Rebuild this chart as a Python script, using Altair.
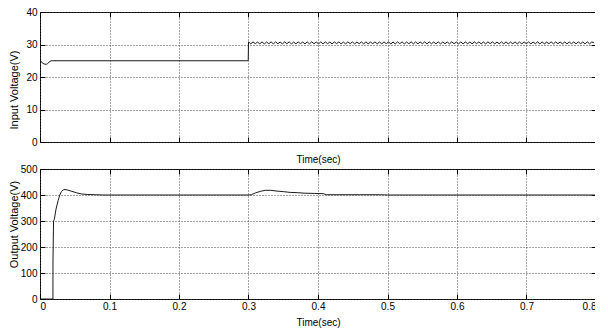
import altair as alt
import pandas as pd

# ---------------- data ----------------
XTICKS = [0, 0.1, 0.2, 0.3, 0.4, 0.5, 0.6, 0.7, 0.8]
IN_YTICKS = [0, 10, 20, 30, 40]
OUT_YTICKS = [0, 100, 200, 300, 400, 500]

# Input voltage: start-up dip, flat 25 V, step at 0.3 s
IN_T_START = [0.0, 0.003, 0.006, 0.009, 0.011, 0.013, 0.016, 0.2996]
IN_V_START = [25.2, 24.4, 24.0, 23.9, 24.1, 24.6, 25.0, 25.0]

# ripple after the step (sampled every half ripple period)
RIPPLE_T0 = 0.3
RIPPLE_DT = 0.00325
IN_RIPPLE = [
    30.8, 30.2, 30.8, 30.25, 30.75, 30.2, 30.8, 30.2, 30.75, 30.25, 30.8, 30.2, 30.8, 30.25,
    30.75, 30.2, 30.8, 30.25, 30.8, 30.2, 30.75, 30.2, 30.8, 30.25, 30.75, 30.2, 30.8, 30.2,
    30.8, 30.25, 30.75, 30.2, 30.8, 30.2, 30.8, 30.25, 30.75, 30.2, 30.8, 30.25, 30.8, 30.2,
    30.75, 30.2, 30.8, 30.25, 30.8, 30.2, 30.75, 30.25, 30.8, 30.2, 30.8, 30.2, 30.75, 30.25,
    30.8, 30.2, 30.75, 30.2, 30.8, 30.25, 30.8, 30.2, 30.75, 30.2, 30.8, 30.25, 30.8, 30.2,
    30.75, 30.25, 30.8, 30.2, 30.8, 30.2, 30.75, 30.25, 30.8, 30.2, 30.8, 30.25, 30.75, 30.2,
    30.8, 30.2, 30.75, 30.25, 30.8, 30.2, 30.8, 30.25, 30.75, 30.2, 30.8, 30.2, 30.8, 30.25,
    30.75, 30.2, 30.8, 30.25, 30.8, 30.2, 30.75, 30.2, 30.8, 30.25, 30.8, 30.2, 30.75, 30.25,
    30.8, 30.2, 30.8, 30.2, 30.75, 30.25, 30.8, 30.2, 30.75, 30.2, 30.8, 30.25, 30.8, 30.2,
    30.75, 30.25, 30.8, 30.2, 30.8, 30.2, 30.75, 30.25, 30.8, 30.2, 30.8, 30.25, 30.75, 30.2,
    30.8, 30.2, 30.75, 30.25, 30.8, 30.2, 30.8, 30.25, 30.75, 30.2, 30.8, 30.2, 30.8, 30.5,
]

# Output voltage
OUT_T = [0.0, 0.0186, 0.0187, 0.0195, 0.0205, 0.023, 0.026, 0.0285, 0.031, 0.0335,
         0.036, 0.040, 0.046, 0.053, 0.060, 0.068, 0.080, 0.092, 0.300, 0.304,
         0.310, 0.317, 0.324, 0.332, 0.341, 0.350, 0.360, 0.370, 0.380, 0.395,
         0.408, 0.412, 0.430, 0.460, 0.490, 0.500, 0.800]
OUT_V = [0, 0, 150, 300, 305, 345, 378, 400, 414, 420,
         421, 419, 414, 408, 404, 402, 401, 400, 400, 401,
         408, 414, 418, 418, 415, 413, 410, 409, 407, 406,
         405, 401, 401, 401, 401, 400, 400]

# ---------------- tables ----------------
in_t = IN_T_START + [RIPPLE_T0 + i * RIPPLE_DT for i in range(len(IN_RIPPLE))]
in_v = IN_V_START + IN_RIPPLE
df_in = pd.DataFrame({"t": in_t, "v": in_v, "i": range(len(in_t))})
df_out = pd.DataFrame({"t": OUT_T, "v": OUT_V, "i": range(len(OUT_T))})

FONT = "Liberation Sans"
GRID = dict(grid=True, gridDash=[1, 2], gridColor="#444444", gridWidth=1)
TICK = dict(offset=-5, tickSize=5, tickColor="black", tickWidth=1, domain=False)
PANEL_W = 556
PANEL_H = 130


def panel(df, ydom, yticks, ytitle, title_y, show_labels, xtitle_pad):
    xs = alt.Scale(domain=[0, 0.8], nice=False, zero=False)
    ys = alt.Scale(domain=ydom, nice=False, zero=False)
    main = alt.Chart(df).mark_line(color="#1a1a1a", strokeWidth=1, clip=True).encode(
        x=alt.X("t:Q", scale=xs,
                axis=alt.Axis(orient="bottom", values=XTICKS, format="~g",
                              labels=show_labels, labelPadding=2,
                              title="Time(sec)", titlePadding=xtitle_pad,
                              **TICK, **GRID)),
        y=alt.Y("v:Q", scale=ys,
                axis=alt.Axis(orient="left", values=yticks, format="d",
                              labelPadding=3, minExtent=17, maxExtent=17,
                              title=ytitle, titlePadding=9, titleY=title_y,
                              titleFontSize=11,
                              **TICK, **GRID)),
        order=alt.Order("i:Q"),
    )
    frame = alt.Chart(df).mark_point(opacity=0).encode(
        x=alt.X("t:Q", scale=xs,
                axis=alt.Axis(orient="top", values=XTICKS, labels=False,
                              title=None, grid=False, **TICK)),
        y=alt.Y("v:Q", scale=ys,
                axis=alt.Axis(orient="right", values=yticks, labels=False,
                              title=None, grid=False, **TICK)),
    )
    return (alt.layer(main, frame)
            .resolve_scale(x="independent", y="independent")
            .properties(width=PANEL_W, height=PANEL_H))


top = panel(df_in, [0, 40], IN_YTICKS, "Input Voltage(V)", 77.5, False, 11.5)
bottom = panel(df_out, [0, 500], OUT_YTICKS, "Output Voltage(V)", 55, True, 6)

chart = (
    alt.vconcat(top, bottom, spacing=27, bounds="flush",
                background="white",
                padding={"left": -1, "top": -2, "right": -5.5, "bottom": 0})
    .configure_view(stroke="black", strokeWidth=1)
    .configure_axis(labelFont=FONT, labelFontSize=10, labelColor="black",
                    titleFont=FONT, titleFontSize=10, titleColor="black",
                    titleFontWeight="normal")
)

chart.save("out.html", embed_options={"renderer": "svg", "actions": False})
